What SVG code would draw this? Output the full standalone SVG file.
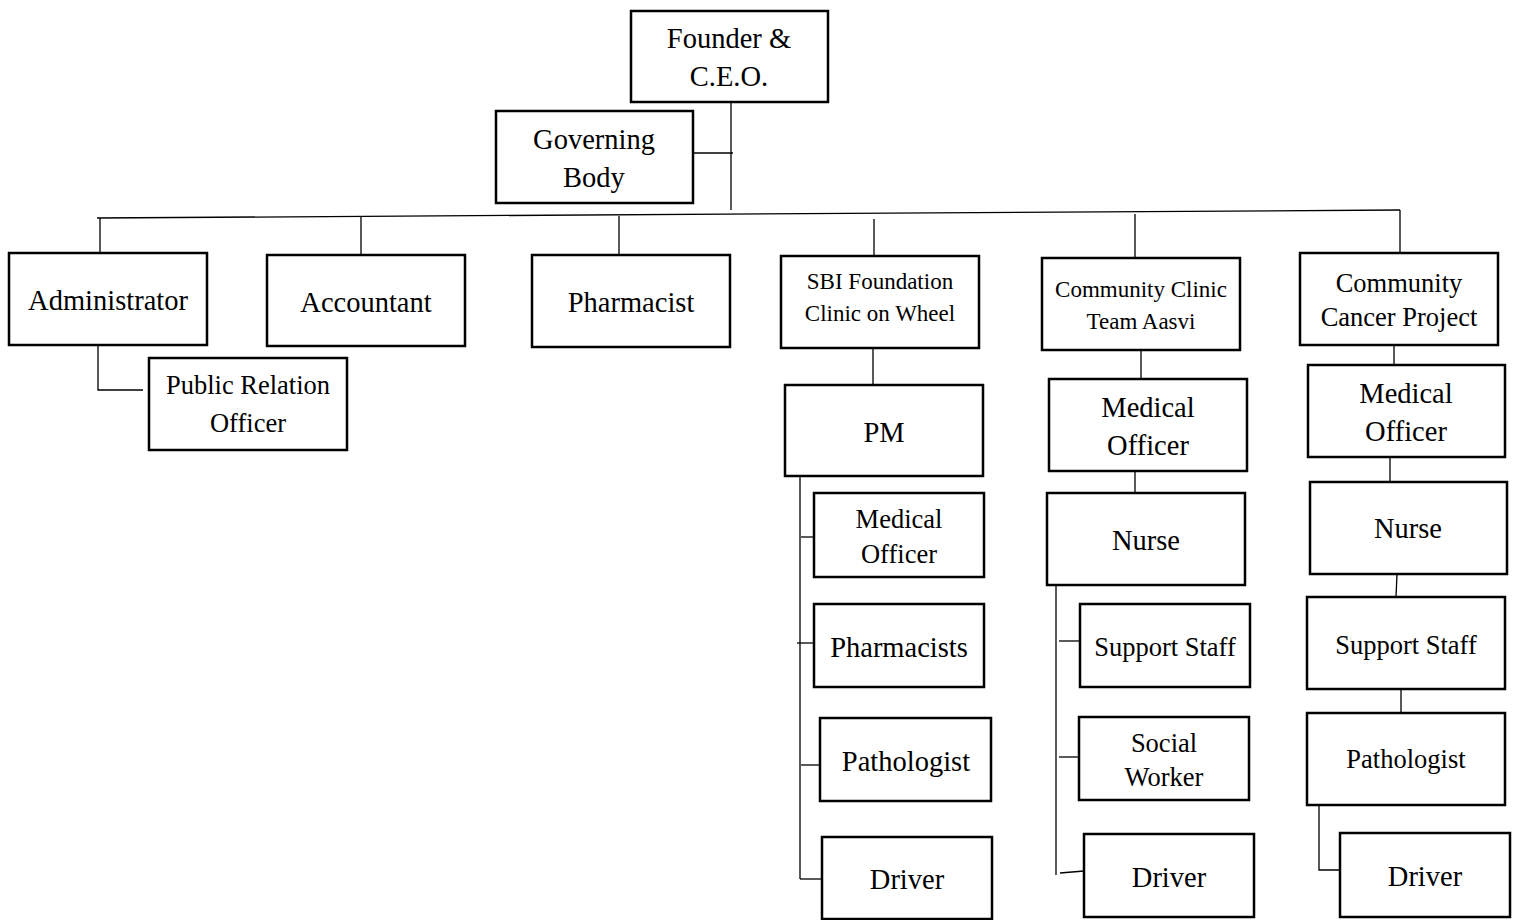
<svg xmlns="http://www.w3.org/2000/svg" width="1520" height="920" viewBox="0 0 1520 920">
<style>
.box{fill:#fff;stroke:#000;stroke-width:2.5}
.t{font-family:"Liberation Serif","Times New Roman",serif;fill:#000;text-anchor:middle;dominant-baseline:central}
.f29{font-size:28.5px}
.f27{font-size:26.5px}
.f23{font-size:23px}
.c line,.c polyline{stroke:#000;stroke-width:1.3;fill:none}
</style>
<rect width="1520" height="920" fill="#fff"/>
<g class="c" id="connectors">
<line x1="731" y1="102" x2="731" y2="210"/>
<line x1="693" y1="153" x2="733" y2="153"/>
<line x1="97" y1="218" x2="1400" y2="210"/>
<line x1="100" y1="218" x2="100" y2="258"/>
<line x1="361" y1="217" x2="361" y2="255"/>
<line x1="619" y1="216" x2="619" y2="255"/>
<line x1="874" y1="219" x2="874" y2="256"/>
<line x1="1135" y1="214" x2="1135" y2="258"/>
<line x1="1400" y1="210" x2="1400" y2="253"/>
<polyline points="98,345 98,390 143,390"/>
<line x1="873" y1="348" x2="873" y2="387"/>
<line x1="800" y1="476" x2="800" y2="879"/>
<line x1="801" y1="537" x2="814" y2="537"/>
<line x1="797" y1="643" x2="814" y2="643"/>
<line x1="801" y1="765" x2="820" y2="765"/>
<line x1="800" y1="879" x2="822" y2="879"/>
<line x1="1141" y1="350" x2="1141" y2="379"/>
<line x1="1135" y1="471" x2="1135" y2="493"/>
<line x1="1056" y1="585" x2="1056" y2="875"/>
<line x1="1059" y1="641" x2="1083" y2="641"/>
<line x1="1059" y1="757" x2="1083" y2="757"/>
<line x1="1060" y1="873" x2="1084" y2="871"/>
<line x1="1394" y1="345" x2="1394" y2="366"/>
<line x1="1390" y1="457" x2="1390" y2="483"/>
<line x1="1397" y1="574" x2="1396" y2="597"/>
<line x1="1401" y1="689" x2="1401" y2="713"/>
<polyline points="1319,805 1319,870 1340,870"/>
</g>
<g id="ceo"><rect class="box" x="631" y="11" width="197" height="91"/><text class="t f29" x="729" y="38">Founder &amp;</text><text class="t f29" x="729" y="76">C.E.O.</text></g>
<g id="governing"><rect class="box" x="496" y="111" width="197" height="92"/><text class="t f29" x="594" y="139">Governing</text><text class="t f29" x="594" y="177">Body</text></g>
<g id="admin"><rect class="box" x="9" y="253" width="198" height="92"/><text class="t f29" x="108" y="300">Administrator</text></g>
<g id="pro"><rect class="box" x="149" y="358" width="198" height="92"/><text class="t f27" x="248" y="385">Public Relation</text><text class="t f27" x="248" y="423">Officer</text></g>
<g id="accountant"><rect class="box" x="267" y="255" width="198" height="91"/><text class="t f29" x="366" y="302">Accountant</text></g>
<g id="pharmacist"><rect class="box" x="532" y="255" width="198" height="92"/><text class="t f29" x="631" y="302">Pharmacist</text></g>
<g id="sbi"><rect class="box" x="781" y="256" width="198" height="92"/><text class="t f23" x="880" y="281">SBI Foundation</text><text class="t f23" x="880" y="313">Clinic on Wheel</text></g>
<g id="pm"><rect class="box" x="785" y="385" width="198" height="91"/><text class="t f29" x="884" y="432">PM</text></g>
<g id="sbi-mo"><rect class="box" x="814" y="493" width="170" height="84"/><text class="t f27" x="899" y="519">Medical</text><text class="t f27" x="899" y="554">Officer</text></g>
<g id="sbi-pharm"><rect class="box" x="814" y="604" width="170" height="83"/><text class="t f29" x="899" y="647">Pharmacists</text></g>
<g id="sbi-path"><rect class="box" x="820" y="718" width="171" height="83"/><text class="t f29" x="906" y="761">Pathologist</text></g>
<g id="sbi-driver"><rect class="box" x="822" y="837" width="170" height="82"/><text class="t f29" x="907" y="879">Driver</text></g>
<g id="ccta"><rect class="box" x="1042" y="258" width="198" height="92"/><text class="t f23" x="1141" y="289">Community Clinic</text><text class="t f23" x="1141" y="321">Team Aasvi</text></g>
<g id="ccta-mo"><rect class="box" x="1049" y="379" width="198" height="92"/><text class="t f29" x="1148" y="407">Medical</text><text class="t f29" x="1148" y="445">Officer</text></g>
<g id="ccta-nurse"><rect class="box" x="1047" y="493" width="198" height="92"/><text class="t f29" x="1146" y="540">Nurse</text></g>
<g id="ccta-support"><rect class="box" x="1080" y="604" width="170" height="83"/><text class="t f27" x="1165" y="647">Support Staff</text></g>
<g id="ccta-social"><rect class="box" x="1079" y="717" width="170" height="83"/><text class="t f27" x="1164" y="743">Social</text><text class="t f27" x="1164" y="777">Worker</text></g>
<g id="ccta-driver"><rect class="box" x="1084" y="834" width="170" height="83"/><text class="t f29" x="1169" y="877">Driver</text></g>
<g id="ccp"><rect class="box" x="1300" y="253" width="198" height="92"/><text class="t f27" x="1399" y="283">Community</text><text class="t f27" x="1399" y="317">Cancer Project</text></g>
<g id="ccp-mo"><rect class="box" x="1308" y="365" width="197" height="92"/><text class="t f29" x="1406" y="393">Medical</text><text class="t f29" x="1406" y="431">Officer</text></g>
<g id="ccp-nurse"><rect class="box" x="1310" y="482" width="197" height="92"/><text class="t f29" x="1408" y="528">Nurse</text></g>
<g id="ccp-support"><rect class="box" x="1307" y="597" width="198" height="92"/><text class="t f27" x="1406" y="645">Support Staff</text></g>
<g id="ccp-path"><rect class="box" x="1307" y="713" width="198" height="92"/><text class="t f27" x="1406" y="759">Pathologist</text></g>
<g id="ccp-driver"><rect class="box" x="1340" y="833" width="170" height="84"/><text class="t f29" x="1425" y="876">Driver</text></g>
</svg>
